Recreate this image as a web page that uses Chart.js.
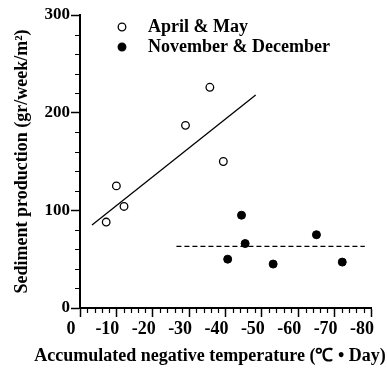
<!DOCTYPE html>
<html>
<head>
<meta charset="utf-8">
<script src="https://cdn.jsdelivr.net/npm/chart.js@4.4.0/dist/chart.umd.min.js"></script>
<style>
html, body { margin: 0; padding: 0; background: #fff; }
</style>
</head>
<body>
<canvas id="c" width="387" height="369"></canvas>
<script>
// values
var aprMayX = [-7.2, -10, -12.1, -29, -35.7, -39.4];
var aprMayY = [88, 125, 104, 187, 226, 150];
var novDecX = [-40.6, -44.4, -45.4, -53.1, -65, -72.1];
var novDecY = [50, 95, 66, 45, 75, 47];
var fitAprX = [-3.3, -48.3];
var fitAprY = [85, 218];
var fitNovX = [-26.5, -78.3];
var fitNovY = [63, 63];
var xTickValues = [0, -10, -20, -30, -40, -50, -60, -70, -80];
var yTickValues = [0, 100, 200, 300];
var xMinorStep = 2;
var yMinorStep = 20;
var xTitle = 'Accumulated negative temperature (\u2103 \u2022 Day)';
var yTitle = 'Sediment production (gr/week/m\u00b2)';

var serif = "'Liberation Serif', 'Times New Roman', serif";

function pts(xs, ys) {
    return xs.map(function(x, i) { return { x: x, y: ys[i] }; });
}

var minorTicks = {
    id: 'minorTicks',
    afterDraw: function(chart) {
        var ctx = chart.ctx;
        var xs = chart.scales.x, ys = chart.scales.y;
        ctx.save();
        ctx.strokeStyle = '#000';
        ctx.lineWidth = 1.2;
        ctx.beginPath();
        for (var v = xs.max; v >= xs.min; v -= xMinorStep) {
            if (v % 10 === 0) continue;
            var px = Math.round(xs.getPixelForValue(v)) + 0.5;
            ctx.moveTo(px, xs.top);
            ctx.lineTo(px, xs.top + 5);
        }
        for (var w = ys.min; w <= ys.max; w += yMinorStep) {
            if (w % 100 === 0) continue;
            var py = Math.round(ys.getPixelForValue(w)) + 0.5;
            ctx.moveTo(ys.right - 5, py);
            ctx.lineTo(ys.right, py);
        }
        ctx.stroke();
        ctx.restore();
    }
};

// legend inside the plot + x title wider than the plot (chart.js would squeeze it)
var extraText = {
    id: 'extraText',
    afterDraw: function(chart) {
        var ctx = chart.ctx;
        var items = chart.data.datasets.filter(function(d) { return !d.showLine; });
        ctx.save();
        ctx.font = 'bold 18px ' + serif;
        ctx.textBaseline = 'middle';
        items.forEach(function(d, i) {
            var y = 27 + i * 20;
            ctx.beginPath();
            ctx.arc(122, y, 3.8, 0, Math.PI * 2);
            ctx.fillStyle = d.backgroundColor;
            ctx.fill();
            ctx.lineWidth = 1.3;
            ctx.strokeStyle = '#000';
            ctx.stroke();
            ctx.fillStyle = '#000';
            ctx.fillText(d.label, 148, y);
        });
        ctx.textAlign = 'center';
        ctx.fillText(xTitle, 210, 356);
        ctx.restore();
    }
};

var config = {
    type: 'scatter',
    data: {
        datasets: [{
            label: 'April & May',
            data: pts(aprMayX, aprMayY),
            backgroundColor: '#fff',
            borderColor: '#000',
            borderWidth: 1.3,
            pointRadius: 3.8
        }, {
            label: 'November & December',
            data: pts(novDecX, novDecY),
            backgroundColor: '#000',
            borderColor: '#000',
            borderWidth: 1,
            pointRadius: 4
        }, {
            label: 'fit april',
            data: pts(fitAprX, fitAprY),
            showLine: true,
            borderColor: '#000',
            borderWidth: 1.3,
            pointRadius: 0
        }, {
            label: 'fit november',
            data: pts(fitNovX, fitNovY),
            showLine: true,
            borderColor: '#000',
            borderWidth: 1.3,
            borderDash: [5, 3],
            pointRadius: 0
        }]
    },
    options: {
        responsive: false,
        devicePixelRatio: 1,
        animation: false,
        layout: { padding: { left: 0, right: 16, top: 15, bottom: 0 } },
        plugins: {
            legend: { display: false },
            tooltip: { enabled: false }
        },
        scales: {
            x: {
                type: 'linear',
                reverse: true,
                min: -80,
                max: 0,
                afterBuildTicks: function(s) {
                    s.ticks = xTickValues.map(function(v) { return { value: v }; });
                },
                afterFit: function(s) { s.height = 61; },
                grid: { drawOnChartArea: false, tickLength: 9, color: '#000', tickWidth: 1.5 },
                border: { color: '#000', width: 2 },
                ticks: {
                    color: '#000',
                    padding: 2,
                    labelOffset: -9,
                    autoSkip: false,
                    maxRotation: 0,
                    font: { family: serif, size: 18, weight: 'bold' }
                },
                title: { display: false }
            },
            y: {
                type: 'linear',
                min: 0,
                max: 300,
                afterBuildTicks: function(s) {
                    s.ticks = yTickValues.map(function(v) { return { value: v }; });
                },
                afterFit: function(s) { s.width = 80; },
                grid: { drawOnChartArea: false, tickLength: 9, color: '#000', tickWidth: 1.5 },
                border: { color: '#000', width: 2 },
                ticks: {
                    color: '#000',
                    padding: 1,
                    font: { family: serif, size: 17, weight: 'bold' }
                },
                title: {
                    display: true,
                    text: yTitle,
                    color: '#000',
                    padding: { top: 12, bottom: 0 },
                    font: { family: serif, size: 18, weight: 'bold' }
                }
            }
        }
    },
    plugins: [minorTicks, extraText]
};

var chart = new Chart(document.getElementById('c').getContext('2d'), config);
</script>
</body>
</html>
